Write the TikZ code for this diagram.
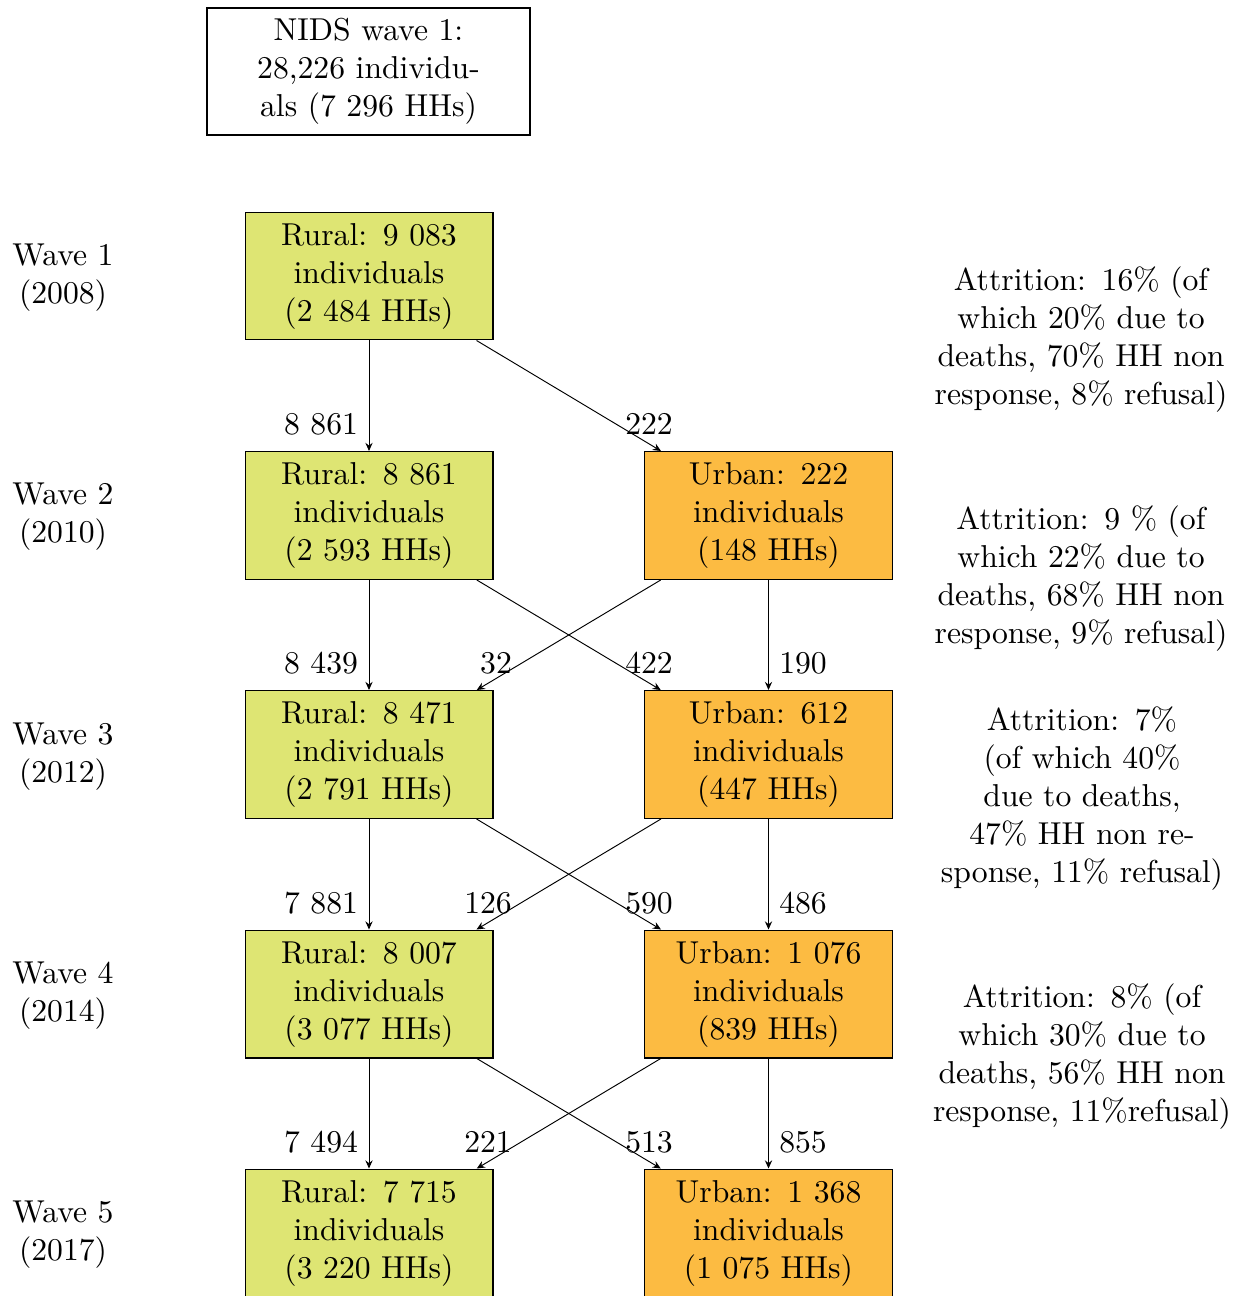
\documentclass[tikz,border=0pt]{standalone}
\usetikzlibrary{arrows.meta}
\definecolor{ruralc}{RGB}{222,229,115}
\definecolor{urbanc}{RGB}{252,187,66}
\begin{document}
\begin{tikzpicture}[x=0.3158pt,y=-0.3158pt,
  box/.style={draw,line width=0.33pt,minimum width=78.3pt,minimum height=40.4pt,align=center,inner sep=0pt},
  rbox/.style={box,fill=ruralc},
  ubox/.style={box,fill=urbanc},
  flow/.style={-{Stealth[length=2.6pt,width=2.3pt,inset=0.9pt]},line width=0.3pt},
  lab/.style={inner sep=0pt},
  txt/.style={align=center,inner sep=0pt}]
\useasboundingbox (0,0) rectangle (1236,1296);
\node[box,minimum width=102pt,minimum height=40.1pt] (nids) at (368.5,71.5) {NIDS wave 1:\\28,226 individu-\\als (7 296 HHs)};
% wave labels
\node[txt] (w1) at (63,278) {Wave 1\\(2008)};
\node[txt] (w2) at (63,517) {Wave 2\\(2010)};
\node[txt] (w3) at (63,757) {Wave 3\\(2012)};
\node[txt] (w4) at (63,996) {Wave 4\\(2014)};
\node[txt] (w5) at (63,1235) {Wave 5\\(2017)};
% boxes
\node[rbox] (r1) at (369,276) {Rural:\ \,9 083\\individuals\\(2 484 HHs)};
\node[rbox] (r2) at (369,515.5) {Rural:\ \,8 861\\individuals\\(2 593 HHs)};
\node[ubox] (u2) at (768.5,515.5) {Urban:\ \,222\\individuals\\(148 HHs)};
\node[rbox] (r3) at (369,754.5) {Rural:\ \,8 471\\individuals\\(2 791 HHs)};
\node[ubox] (u3) at (768.5,754.5) {Urban:\ \,612\\individuals\\(447 HHs)};
\node[rbox] (r4) at (369,994) {Rural:\ \,8 007\\individuals\\(3 077 HHs)};
\node[ubox] (u4) at (768.5,994) {Urban:\ \,1 076\\individuals\\(839 HHs)};
\node[rbox] (r5) at (369,1233) {Rural:\ \,7 715\\individuals\\(3 220 HHs)};
\node[ubox] (u5) at (768.5,1233) {Urban:\ \,1 368\\individuals\\(1 075 HHs)};
% arrows
\draw[flow] (r1) -- (r2);
\draw[flow] (r1) -- (u2);
\draw[flow] (r2) -- (r3);
\draw[flow] (r2) -- (u3);
\draw[flow] (u2) -- (r3);
\draw[flow] (u2) -- (u3);
\draw[flow] (r3) -- (r4);
\draw[flow] (r3) -- (u4);
\draw[flow] (u3) -- (r4);
\draw[flow] (u3) -- (u4);
\draw[flow] (r4) -- (r5);
\draw[flow] (r4) -- (u5);
\draw[flow] (u4) -- (r5);
\draw[flow] (u4) -- (u5);
% flow labels
\node[lab] (l12a) at (321,424) {8 861};
\node[lab] (l12b) at (649,424) {222};
\node[lab] (l23a) at (321,663) {8 439};
\node[lab] (l23b) at (496,663) {32};
\node[lab] (l23c) at (649,663) {422};
\node[lab] (l23d) at (803,663) {190};
\node[lab] (l34a) at (321,903) {7 881};
\node[lab] (l34b) at (488,903) {126};
\node[lab] (l34c) at (649,903) {590};
\node[lab] (l34d) at (803,903) {486};
\node[lab] (l45a) at (321,1142) {7 494};
\node[lab] (l45b) at (488,1142) {221};
\node[lab] (l45c) at (649,1142) {513};
\node[lab] (l45d) at (803,1142) {855};
% attrition
\node[txt] (a1) at (1081,340) {Attrition:\ \,16\% (of\\which 20\% due to\\deaths, 70\% HH non\\response, 8\% refusal)};
\node[txt] (a2) at (1081,579) {Attrition:\ \,9 \% (of\\which 22\% due to\\deaths, 68\% HH non\\response, 9\% refusal)};
\node[txt] (a3) at (1082,799) {Attrition:\ \,7\%\\(of which 40\%\\due to deaths,\\47\% HH non re-\\sponse, 11\% refusal)};
\node[txt] (a4) at (1082,1057) {Attrition:\ \,8\% (of\\which 30\% due to\\deaths, 56\% HH non\\response, 11\%refusal)};
\end{tikzpicture}
\end{document}
